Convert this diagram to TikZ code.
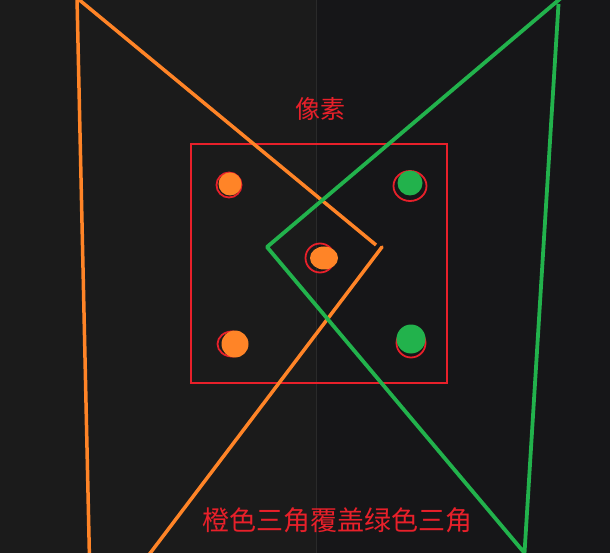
\documentclass[tikz,border=0pt]{standalone}
\usepackage{fontspec}
\newfontfamily\cjk{Noto Sans CJK SC}
\definecolor{bgL}{HTML}{1B1B1B}
\definecolor{bgR}{HTML}{161618}
\definecolor{divc}{HTML}{2A2A2A}
\definecolor{org}{HTML}{FF8427}
\definecolor{grn}{HTML}{22B24C}
\definecolor{rd}{HTML}{E8202A}
\tikzset{
  orgline/.style={draw=org, line width=3.5pt},
  grnline/.style={draw=grn, line width=3.8pt},
  redline/.style={draw=rd, line width=1.8pt},
  lbl/.style={text=rd, font=\cjk, inner sep=0pt}
}
\begin{document}
\begin{tikzpicture}[x=1pt,y=-1pt]
\useasboundingbox (0,0) rectangle (610,553);
\fill[bgL] (0,0) rectangle (316,553);
\fill[bgR] (316,0) rectangle (610,553);
\draw[divc, line width=1pt] (316,0) -- (316,553);
\begin{scope}
\clip (0,0) rectangle (610,553);
% pixel box
\node[draw=rd, line width=1.8pt, minimum width=256pt, minimum height=239pt, inner sep=0pt] (box) at (319,263.5) {};
% sample dots
\draw[redline] (229,185) circle [radius=12.5pt];
\fill[org] (230,184) circle [radius=11.5pt];
\draw[redline] (410,186) ellipse [x radius=16.5pt, y radius=15pt];
\fill[grn] (410,183) circle [radius=12.5pt];
\draw[redline] (320,258) circle [radius=14.5pt];
\fill[org] (324,258) ellipse [x radius=14pt, y radius=11.5pt];
\draw[redline] (232,344) ellipse [x radius=14.5pt, y radius=12.5pt];
\fill[org] (235,344) circle [radius=13.5pt];
\draw[redline] (411,343) circle [radius=14.5pt];
\fill[grn] (411,339) circle [radius=14.5pt];
% orange triangle
\coordinate (oT) at (77,-2);
\coordinate (oB) at (89.5,560);
\coordinate (oR1) at (376,245);
\coordinate (oR2) at (382,247);
\coordinate (oL) at (145,560);
\draw[orgline] (oB) -- (oT) -- (oR1);
\draw[orgline, line cap=round] (oR2) -- (oL);
% green triangle
\coordinate (gT) at (561,-2);
\coordinate (gT2) at (558.5,4);
\coordinate (gL) at (267,247);
\coordinate (gB) at (524.5,553);
\draw[grnline, line join=round] (gT) -- (gL) -- (gB) -- (gT2);
\end{scope}
\node[lbl, font=\cjk\fontsize{25}{25}\selectfont] (title) at (320,109) {像素};
\node[lbl, font=\cjk\fontsize{27}{27}\selectfont] (cap) at (337,520) {橙色三角覆盖绿色三角};
\end{tikzpicture}
\end{document}
